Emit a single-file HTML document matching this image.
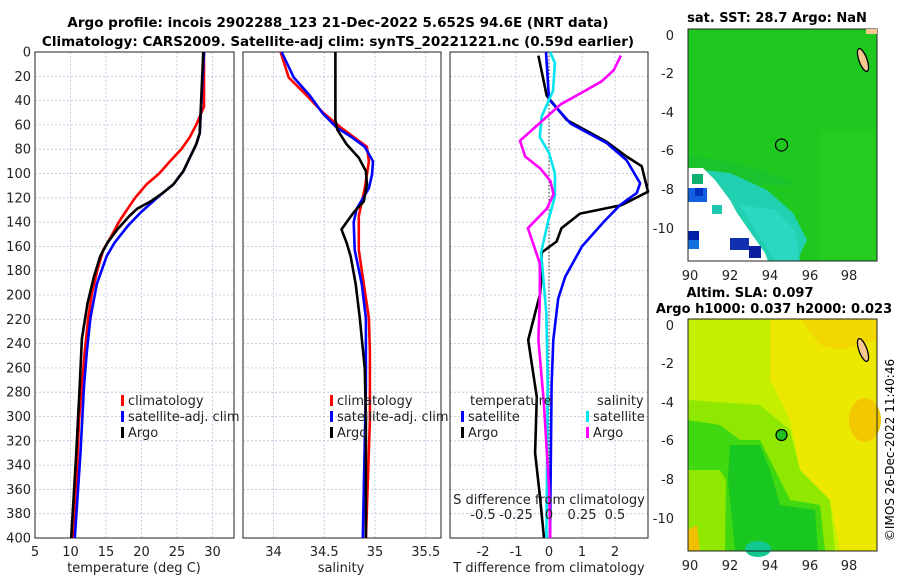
<!DOCTYPE html>
<html><head><meta charset="utf-8">
<style>
body{margin:0;background:#fff;}
svg{display:block;font-family:"DejaVu Sans","Liberation Sans",sans-serif;}
</style></head>
<body>
<svg id="fig" width="900" height="580" viewBox="0 0 900 580">
<text x="338" y="27" text-anchor="middle" font-size="13.5" font-weight="bold">Argo profile: incois 2902288_123 21-Dec-2022 5.652S 94.6E (NRT data)</text>
<text x="338" y="46" text-anchor="middle" font-size="13.5" font-weight="bold">Climatology: CARS2009. Satellite-adj clim: synTS_20221221.nc (0.59d earlier)</text>
<g id="plots"></g>
<text transform="translate(894,450) rotate(-90)" text-anchor="middle" font-size="12">©IMOS 26-Dec-2022 11:40:46</text>
</svg>
<script>
// ---- data ----
const depthTicks=[0,20,40,60,80,100,120,140,160,180,200,220,240,260,280,300,320,340,360,380,400];
const tempTicks=[5,10,15,20,25,30];
const salTicks=[34,34.5,35,35.5];
const tdiffTicks=[-2,-1,0,1,2];
const sdiffTicks=[-0.5,-0.25,0,0.25,0.5];
const sdiffLabels=["-0.5","-0.25","0","0.25","0.5"];

const tClimDepth=[0,45,60,70,80,90,100,109,120,132,140,151,163,179,199,219,247,275,303,345,400];
const tClim=[28.8,28.8,27.7,26.8,25.6,24.0,22.5,20.7,19.1,17.7,16.8,15.8,14.6,13.8,13.0,12.5,12.0,11.6,11.2,10.9,10.3];
const tSatDepth=[0,67,76,87,98,109,120,132,143,157,168,191,219,247,275,331,400];
const tSat=[28.8,28.2,27.7,26.8,25.9,24.5,22.2,19.9,18.1,16.2,15.1,13.7,12.8,12.3,11.9,11.4,10.6];
const tArgoDepth=[0,67,76,87,98,109,116,123,129,135,146,157,168,185,207,236,275,331,400];
const tArgo=[28.7,28.2,27.7,26.8,25.9,24.5,23.0,21.3,19.4,18.3,16.6,15.2,14.2,13.3,12.4,11.6,11.3,10.8,10.1];

const sClimDepth=[0,21,36,50,62,70,78,90,112,135,163,191,219,247,303,400];
const sClim=[34.07,34.15,34.33,34.49,34.66,34.79,34.92,34.94,34.9,34.84,34.84,34.89,34.94,34.95,34.95,34.91];
const sSatDepth=[0,21,36,50,62,70,78,90,101,112,129,140,163,191,219,275,400];
const sSat=[34.08,34.2,34.36,34.48,34.62,34.77,34.9,34.98,34.97,34.94,34.82,34.79,34.8,34.87,34.91,34.91,34.88];
const sArgoDepth=[0,56,64,76,87,98,109,123,132,146,157,168,191,219,261,303,400];
const sArgo=[34.61,34.61,34.63,34.72,34.84,34.91,34.92,34.89,34.79,34.67,34.72,34.76,34.81,34.85,34.9,34.91,34.91];

const dTArgoDepth=[3,36,56,74,86,94,115,126,133,145,156,165,188,199,237,284,330,367,400];
const dTArgo=[-0.32,-0.07,0.54,1.75,2.35,2.81,3.0,2.2,0.94,0.38,0.23,-0.22,-0.24,-0.27,-0.63,-0.37,-0.42,-0.27,-0.15];
const dTSatDepth=[0,39,59,75,89,108,116,126,140,160,185,203,237,274,400];
const dTSat=[-0.09,0.0,0.66,1.75,2.35,2.76,2.66,2.15,1.65,1.0,0.49,0.28,0.13,0.08,0.03];
const dSSatDepth=[0,9,32,53,70,83,100,119,140,165,216,274,400];
const dSSat=[0.008,0.045,0.03,-0.055,-0.07,0.0,0.045,0.045,-0.008,-0.06,-0.02,-0.01,-0.02];
const dSArgoDepth=[3,15,24,34,43,58,73,86,96,106,117,129,145,161,174,203,237,287,358,400];
const dSArgo=[0.545,0.49,0.40,0.24,0.09,-0.065,-0.22,-0.18,-0.065,0.01,0.035,-0.017,-0.16,-0.11,-0.07,-0.07,-0.08,-0.04,0.0,0.01];

const NS="http://www.w3.org/2000/svg";
function mk(tag,attrs,parent){const e=document.createElementNS(NS,tag);for(const k in attrs)e.setAttribute(k,attrs[k]);parent.appendChild(e);return e;}
const plots=document.getElementById('plots');
const Y0=52,Y1=538;
const yD=d=>Y0+(d/400)*(Y1-Y0);

const panels=[
 {x0:35,x1:234,lo:5,hi:33.03,name:'temperature-panel'},
 {x0:243,x1:441,lo:33.70,hi:35.65,name:'salinity-panel'},
 {x0:450,x1:648,lo:-3,hi:3,name:'difference-panel'}
];
function sx(p,v){return p.x0+(v-p.lo)/(p.hi-p.lo)*(p.x1-p.x0);}

panels.forEach((p,i)=>{
 const g=mk('g',{},plots);
 
 
 depthTicks.forEach(d=>{
  const l=mk('line',{x1:p.x0,x2:p.x1,y1:yD(d),y2:yD(d),stroke:'#b8c4dc','stroke-width':0.8,'stroke-dasharray':'2,2'},g);
  
  
 });
 const xt=i===0?tempTicks:(i===1?salTicks:tdiffTicks);
 xt.forEach(v=>{
  const x=sx(p,v);
  const l=mk('line',{x1:x,x2:x,y1:Y0,y2:Y1,stroke:'#b8c4dc','stroke-width':0.8,'stroke-dasharray':'2,2'},g);
  
  
  const t=mk('text',{x:x,y:Y1+18,'text-anchor':'middle','font-size':13,fill:'#222'},g);
  t.textContent=String(v);
  
  
 });
 const r=mk('rect',{x:p.x0,y:Y0,width:p.x1-p.x0,height:Y1-Y0,fill:'none',stroke:'#222','stroke-width':1},g);
 
 
 if(i===0){
  depthTicks.forEach(d=>{
   const t=mk('text',{x:p.x0-4,y:yD(d)+4.5,'text-anchor':'end','font-size':13,fill:'#222'},g);
   t.textContent=String(d);
   
   
  });
 }
});
const zl=mk('line',{x1:sx(panels[2],0),x2:sx(panels[2],0),y1:Y0,y2:Y1,stroke:'#333','stroke-width':1,'stroke-dasharray':'1.5,2'},plots);



function series(p,depths,vals,color,name,scale){
 const pts=depths.map((d,k)=>sx(p,vals[k]*(scale||1)).toFixed(1)+','+yD(d).toFixed(1)).join(' ');
 const pl=mk('polyline',{points:pts,fill:'none',stroke:color,'stroke-width':2.6,'stroke-linejoin':'round'},plots);
 
 
}
series(panels[0],tClimDepth,tClim,'#ff0000','temp-climatology-line');
series(panels[0],tSatDepth,tSat,'#0000ff','temp-satellite-line');
series(panels[0],tArgoDepth,tArgo,'#000000','temp-argo-line');
series(panels[1],sClimDepth,sClim,'#ff0000','sal-climatology-line');
series(panels[1],sSatDepth,sSat,'#0000ff','sal-satellite-line');
series(panels[1],sArgoDepth,sArgo,'#000000','sal-argo-line');
series(panels[2],dTArgoDepth,dTArgo,'#000000','tdiff-argo-line');
series(panels[2],dTSatDepth,dTSat,'#0000ff','tdiff-satellite-line');
series(panels[2],dSSatDepth,dSSat,'#00e5ee','sdiff-satellite-line',4);
series(panels[2],dSArgoDepth,dSArgo,'#ff00ff','sdiff-argo-line',4);

sdiffTicks.forEach((v,k)=>{
 const t=mk('text',{x:sx(panels[2],v*4),y:519,'text-anchor':'middle','font-size':13,fill:'#222'},plots);
 t.textContent=sdiffLabels[k];
 
 
});

function legend(x,y,color,label,name){
 const r=mk('rect',{x:x,y:y-10,width:3,height:11,fill:color},plots);
 
 
 const t=mk('text',{x:x+7,y:y,'font-size':13,fill:'#222'},plots);
 t.textContent=label;
 
 
}
legend(121,405,'#ff0000','climatology','legend-climatology');
legend(121,421,'#0000ff','satellite-adj. clim','legend-satellite');
legend(121,437,'#000000','Argo','legend-argo');
legend(330,405,'#ff0000','climatology','legend-sal-climatology');
legend(330,421,'#0000ff','satellite-adj. clim','legend-sal-satellite');
legend(330,437,'#000000','Argo','legend-sal-argo');
legend(461,421,'#0000ff','satellite','legend-t-satellite');
legend(461,437,'#000000','Argo','legend-t-argo');
legend(586,421,'#00e5ee','satellite','legend-s-satellite');
legend(586,437,'#ff00ff','Argo','legend-s-argo');
</script>
<svg style="position:absolute;left:0;top:0" width="900" height="580">
<g font-family="DejaVu Sans, Liberation Sans, sans-serif" font-size="13" fill="#222">
<text x="470" y="405">temperature</text>
<text x="597" y="405">salinity</text>
<text x="549" y="504" text-anchor="middle">S difference from climatology</text>
<text x="134" y="572" text-anchor="middle">temperature (deg C)</text>
<text x="341" y="572" text-anchor="middle">salinity</text>
<text x="549" y="572" text-anchor="middle">T difference from climatology</text>
</g>
<g>
<text x="777" y="22" text-anchor="middle" font-family="DejaVu Sans, sans-serif" font-size="13" font-weight="bold">sat. SST: 28.7 Argo: NaN</text>
<rect x="688" y="29" width="189" height="232" fill="#1fc81f"/>
<rect x="820" y="130" width="57" height="131" fill="#28cc20" opacity="0.8"/>
<polygon points="688,155 720,160 760,170 800,185 688,185" fill="#18c030" opacity="0.7"/>
<polygon points="703,170 730,173 767,190 793,213 807,240 797,261 768,261 765,253 737,213 730,200 715,180 703,168" fill="#20d0b0"/>
<polygon points="740,205 775,210 795,230 800,261 775,261" fill="#28d8c0"/>
<polygon points="688,168 703,168 715,180 730,200 737,213 765,253 768,261 688,261" fill="#ffffff"/>
<rect x="692" y="174" width="11" height="10" fill="#10b070"/>
<rect x="688" y="188" width="19" height="14" fill="#1060e0"/>
<rect x="695" y="188" width="8" height="8" fill="#0030c0"/>
<rect x="712" y="205" width="10" height="9" fill="#20c8b0"/>
<rect x="688" y="231" width="11" height="10" fill="#0022aa"/>
<rect x="688" y="240" width="11" height="9" fill="#1070e0"/>
<rect x="730" y="238" width="19" height="12" fill="#1030b0"/>
<rect x="749" y="246" width="12" height="12" fill="#0a1fa0"/>
<rect x="688" y="29" width="189" height="232" fill="none" stroke="#222" stroke-width="1"/>
<ellipse cx="863" cy="60" rx="4" ry="12" transform="rotate(-20 863 60)" fill="#f6c890" stroke="#000" stroke-width="1.3"/>
<rect x="866" y="29" width="11" height="5" fill="#f6c890"/>
<circle cx="781.5" cy="145" r="6" fill="none" stroke="#000" stroke-width="1.2"/>
<g font-family="DejaVu Sans, sans-serif" font-size="13" fill="#222" text-anchor="end">
<text x="674" y="40">0</text><text x="674" y="78">-2</text><text x="674" y="117">-4</text><text x="674" y="155">-6</text><text x="674" y="194">-8</text><text x="674" y="233">-10</text>
</g>
<g font-family="DejaVu Sans, sans-serif" font-size="13" fill="#222" text-anchor="middle">
<text x="690" y="280">90</text><text x="730" y="280">92</text><text x="770" y="280">94</text><text x="810" y="280">96</text><text x="849" y="280">98</text>
</g>
</g>
<g>
<text x="750" y="297" text-anchor="middle" font-family="DejaVu Sans, sans-serif" font-size="13" font-weight="bold">Altim. SLA: 0.097</text>
<text x="774" y="313" text-anchor="middle" font-family="DejaVu Sans, sans-serif" font-size="13" font-weight="bold">Argo h1000: 0.037 h2000: 0.023</text>
<rect x="688" y="319" width="189" height="232" fill="#c4f000"/>
<polygon points="770,319 877,319 877,551 840,551 830,500 800,470 790,420 770,380" fill="#ece800"/>
<polygon points="800,319 877,319 877,340 840,350 820,345" fill="#f2d800"/>
<ellipse cx="865" cy="420" rx="16" ry="22" fill="#f2c800"/>
<polygon points="688,400 760,405 790,430 800,470 830,500 835,551 688,551" fill="#90e800"/>
<polygon points="688,420 720,425 740,440 760,440 775,470 790,500 820,505 825,551 725,551 726,480 720,470 688,470" fill="#40d810"/>
<polygon points="730,445 760,445 770,470 780,505 815,510 818,551 735,551 728,480" fill="#18c820"/>
<ellipse cx="758" cy="549" rx="13" ry="8" fill="#10c890"/>
<polygon points="688,530 697,525 700,551 688,551" fill="#f0c000"/>
<rect x="688" y="319" width="189" height="232" fill="none" stroke="#222" stroke-width="1"/>
<ellipse cx="863" cy="350" rx="4" ry="12" transform="rotate(-20 863 350)" fill="#f6c890" stroke="#000" stroke-width="1.3"/>
<circle cx="781.5" cy="435" r="5.5" fill="#20c020" stroke="#000" stroke-width="1.2"/>
<g font-family="DejaVu Sans, sans-serif" font-size="13" fill="#222" text-anchor="end">
<text x="674" y="330">0</text><text x="674" y="368">-2</text><text x="674" y="407">-4</text><text x="674" y="445">-6</text><text x="674" y="484">-8</text><text x="674" y="523">-10</text>
</g>
<g font-family="DejaVu Sans, sans-serif" font-size="13" fill="#222" text-anchor="middle">
<text x="690" y="570">90</text><text x="730" y="570">92</text><text x="770" y="570">94</text><text x="810" y="570">96</text><text x="849" y="570">98</text>
</g>
</g>
</svg>
</body></html>
